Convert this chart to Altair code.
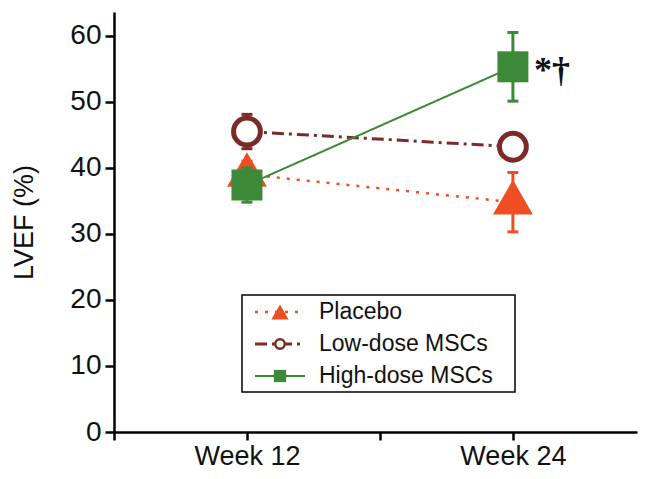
import altair as alt
import pandas as pd

# ---- data ----
groups = ["Placebo", "Low-dose MSCs", "High-dose MSCs"]
weeks = [12, 24]
week_labels = ["Week 12", "Week 24"]
placebo_lvef = [39.0, 34.8]
lowdose_lvef = [45.5, 43.2]
highdose_lvef = [37.4, 55.3]
placebo_err = [2.0, 4.5]
lowdose_err = [2.6, 1.8]
highdose_err = [2.6, 5.2]
annotation = "*†"

# ---- styles ----
colors = ["#EF4E23", "#7B2B27", "#3C8A37"]
shapes = ["triangle-up", "circle", "square"]
dashes = [[3, 7], [12, 5, 3, 5], [1, 0]]
line_widths = [2.5, 3, 2]
marker_y_offsets = [-5, 0, 0]
FONT = "Liberation Sans"

values = [placebo_lvef, lowdose_lvef, highdose_lvef]
errors = [placebo_err, lowdose_err, highdose_err]
rows = []
for g, vals, errs in zip(groups, values, errors):
    for w, v, e in zip(weeks, vals, errs):
        rows.append({"group": g, "week": w, "lvef": v, "lo": v - e, "hi": v + e})
df = pd.DataFrame(rows)

x_ticks = [6, 12, 18, 24]
x_label_expr = " : ".join(f"datum.value == {w} ? '{l}'" for w, l in zip(weeks, week_labels)) + " : ''"

xscale = alt.Scale(domain=[6, 29.6], nice=False, zero=False)
yscale = alt.Scale(domain=[0, 63.6], nice=False)

xenc = alt.X("week:Q", scale=xscale, axis=alt.Axis(
    values=x_ticks, labelExpr=x_label_expr, title=None, grid=False,
    labelFontSize=27, labelFont=FONT, labelColor="#111", labelPadding=24,
    labelBaseline="alphabetic",
    tickSize=8, tickWidth=2.5, tickColor="black", domainColor="black", domainWidth=2.5,
    labelFlush=False, labelOverlap=False))
yenc = alt.Y("lvef:Q", scale=yscale, axis=alt.Axis(
    values=list(range(0, 61, 5)), labelExpr="datum.value % 10 === 0 ? datum.label : ''",
    title="LVEF (%)", titleFontSize=27, titleFont=FONT, titleFontWeight="normal", titleColor="#111",
    titlePadding=31, grid=False,
    labelFontSize=28, labelFont=FONT, labelColor="#111", labelPadding=4,
    tickSize={"condition": {"test": "datum.value % 10 !== 0", "value": 5}, "value": 9},
    tickWidth=2.5, tickColor="black", domainColor="black", domainWidth=2.5,
    labelOverlap=False))

base = alt.Chart(df)
layers = []
# lines
for i, g in enumerate(groups):
    layers.append(base.transform_filter(alt.datum.group == g).mark_line(
        color=colors[i], strokeDash=dashes[i], strokeWidth=line_widths[i]
    ).encode(x=xenc, y=yenc))

point_sizes = [1600, 720, 960]
for i, g in enumerate(groups):
    sub = base.transform_filter(alt.datum.group == g)
    layers.append(sub.mark_rule(color=colors[i], strokeWidth=3).encode(
        x="week:Q", y="lo:Q", y2="hi:Q"))
    for col in ["lo", "hi"]:
        layers.append(sub.mark_tick(color=colors[i], orient="horizontal", size=11, thickness=3,
                                    opacity=1).encode(x="week:Q", y=f"{col}:Q"))
    if shapes[i] == "circle":
        pt = sub.mark_point(shape="circle", size=point_sizes[i], filled=False, fill="white",
                            stroke=colors[i], strokeWidth=5, opacity=1)
    else:
        pt = sub.mark_point(shape=shapes[i], size=point_sizes[i], filled=True,
                            color=colors[i], opacity=1, yOffset=marker_y_offsets[i])
    layers.append(pt.encode(x="week:Q", y="lvef:Q"))

# annotation next to high-dose week 24
annot_df = pd.DataFrame({"week": [weeks[1]], "lvef": [highdose_lvef[1]], "label": [annotation]})
layers.append(alt.Chart(annot_df).mark_text(
    align="left", baseline="alphabetic", dx=21, dy=15, fontSize=36, font="Liberation Serif",
    fontWeight="bold", color="#111"
).encode(x="week:Q", y="lvef:Q", text="label:N"))

# ---- legend (drawn manually) ----
one = pd.DataFrame({"a": [0]})
layers.append(alt.Chart(one).mark_rect(fill="white", stroke="black", strokeWidth=1.5).encode(
    x=alt.value(128), x2=alt.value(401), y=alt.value(283), y2=alt.value(380)))
leg_sizes = [300, 90, 150]
for i, g in enumerate(groups):
    yy = 300 + 32 * i
    layers.append(alt.Chart(one).mark_rule(color=colors[i], strokeDash=dashes[i],
                                           strokeWidth=line_widths[i]).encode(
        x=alt.value(141), x2=alt.value(191), y=alt.value(yy)))
    if shapes[i] == "circle":
        lp = alt.Chart(one).mark_point(shape="circle", size=leg_sizes[i], filled=False, fill="white",
                                       stroke=colors[i], strokeWidth=2.5, opacity=1)
    else:
        lp = alt.Chart(one).mark_point(shape=shapes[i], size=leg_sizes[i], filled=True,
                                       color=colors[i], opacity=1)
    layers.append(lp.encode(x=alt.value(166), y=alt.value(yy)))
    layers.append(alt.Chart(one).mark_text(align="left", baseline="middle", fontSize=23,
                                           font=FONT, color="#111").encode(
        x=alt.value(205), y=alt.value(yy), text=alt.value(g)))

chart = alt.layer(*layers).properties(
    width=523, height=420,
    autosize=alt.AutoSizeParams(type="none"),
    padding={"left": 106, "top": 4, "right": 4, "bottom": 38},
    background="white",
).configure_view(stroke=None)

chart.save("out.html", embed_options={"renderer": "svg", "actions": False})
